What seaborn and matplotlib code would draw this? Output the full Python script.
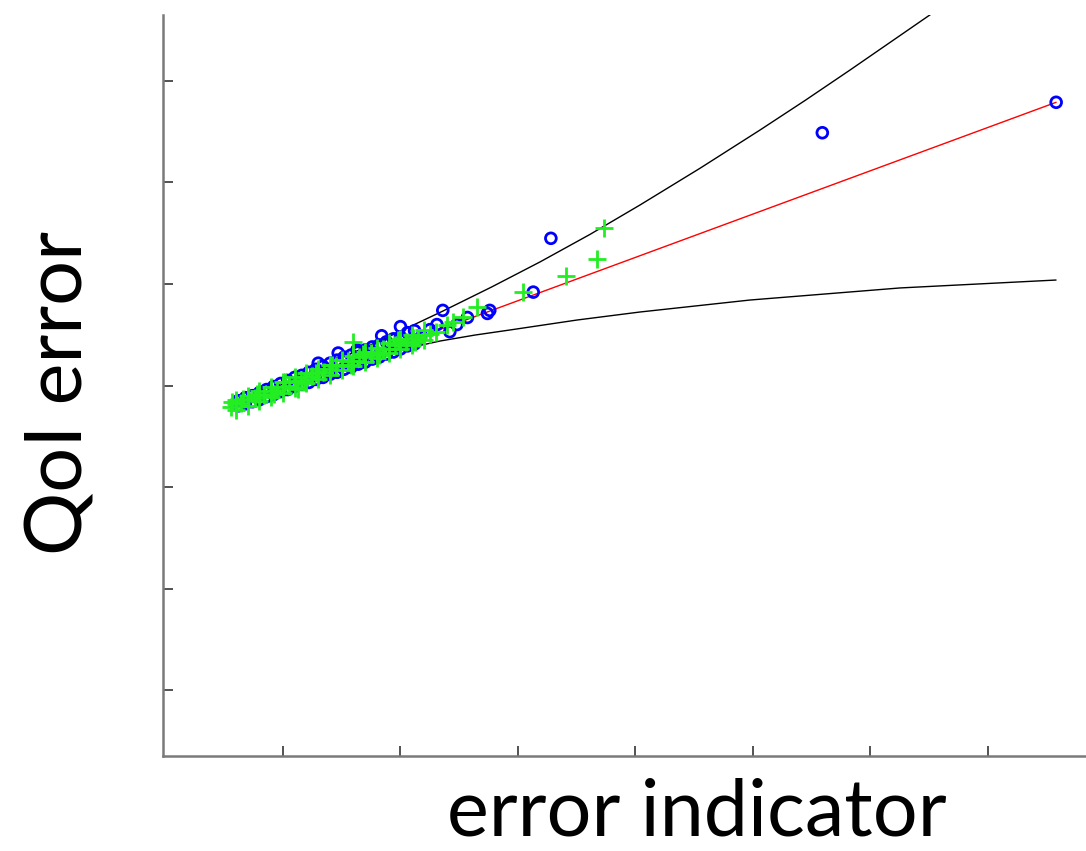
import matplotlib
matplotlib.use("Agg")
import matplotlib.pyplot as plt
import seaborn as sns
import numpy as np
import pandas as pd

# ---------------- data ----------------
blue_x = [0.62, 0.62, 0.68, 0.68, 0.74, 0.74, 0.80, 0.80, 0.86, 0.86, 0.92, 0.92,
          0.98, 0.98, 1.04, 1.04, 1.10, 1.10, 1.16, 1.16, 1.22, 1.22, 1.28, 1.28,
          1.34, 1.34, 1.40, 1.40, 1.46, 1.46, 1.52, 1.52, 1.58, 1.58, 1.64, 1.64,
          1.70, 1.70, 1.76, 1.76, 1.82, 1.82, 1.88, 1.88, 1.94, 1.94, 2.00, 2.00,
          2.06, 2.06, 2.12, 2.12,
          1.47, 1.30, 1.63, 1.84, 2.00, 2.31, 2.48, 2.57, 2.36, 2.74, 2.76,
          2.25, 2.42, 2.17,
          3.13, 3.28, 5.59, 7.58]
blue_y = [3.80, 3.85, 3.82, 3.88, 3.84, 3.90, 3.86, 3.93, 3.89, 3.96, 3.91, 3.99,
          3.94, 4.02, 3.96, 4.05, 3.99, 4.08, 4.01, 4.10, 4.03, 4.13, 4.06, 4.16,
          4.08, 4.19, 4.11, 4.22, 4.13, 4.25, 4.16, 4.28, 4.18, 4.30, 4.21, 4.33,
          4.23, 4.35, 4.26, 4.38, 4.28, 4.40, 4.31, 4.43, 4.33, 4.46, 4.36, 4.48,
          4.39, 4.52, 4.41, 4.54,
          4.32, 4.22, 4.35, 4.49, 4.58, 4.60, 4.60, 4.67, 4.74, 4.71, 4.74,
          4.55, 4.53, 4.47,
          4.92, 5.45, 6.49, 6.79]

green_x = [0.56, 0.57, 0.60, 0.64, 0.70, 0.76, 0.80, 0.84, 0.90, 0.95, 1.00, 1.05,
           1.10, 1.13, 1.15, 1.20, 1.25, 1.30, 1.35, 1.40, 1.45, 1.50, 1.55, 1.60,
           1.65, 1.70, 1.75, 1.80, 1.85, 1.90, 1.95, 2.00, 2.05, 2.10, 2.15, 2.20,
           2.25, 2.30,
           0.66, 0.78, 0.92, 1.02, 1.18, 1.28, 1.42, 1.58, 1.68, 1.82, 1.98, 2.12,
           0.60, 0.70, 0.80, 0.90, 1.00, 1.10, 1.20, 1.30, 1.40, 1.50, 1.60, 1.70,
           1.80, 1.90, 2.00, 2.10, 2.20,
           0.60, 0.70, 0.80, 0.90, 1.00, 1.10, 1.20, 1.30, 1.40, 1.50, 1.60, 1.70,
           1.80, 1.90, 2.00, 2.10, 2.20,
           1.60, 2.11, 2.53, 2.65, 2.40, 2.45,
           3.04, 3.41, 3.67, 3.73]
green_y = [3.79, 3.84, 3.82, 3.83, 3.86, 3.88, 3.91, 3.91, 3.95, 3.96, 3.99, 4.00,
           4.04, 3.97, 4.05, 4.08, 4.09, 4.13, 4.13, 4.16, 4.19, 4.20, 4.24, 4.24,
           4.28, 4.29, 4.32, 4.33, 4.36, 4.36, 4.40, 4.42, 4.43, 4.46, 4.47, 4.50,
           4.51, 4.53,
           3.87, 3.92, 3.92, 4.03, 4.03, 4.12, 4.20, 4.20, 4.31, 4.30, 4.45, 4.43,
           3.86, 3.90, 3.95, 3.99, 4.03, 4.08, 4.12, 4.16, 4.20, 4.25, 4.29, 4.33,
           4.37, 4.42, 4.46, 4.50, 4.55,
           3.76, 3.80, 3.85, 3.89, 3.93, 3.98, 4.02, 4.06, 4.10, 4.15, 4.19, 4.23,
           4.27, 4.32, 4.36, 4.40, 4.45,
           4.43, 4.47, 4.67, 4.77, 4.60, 4.63,
           4.92, 5.08, 5.25, 5.55]

fit_x = [0.55, 7.58]
fit_y = [3.79, 6.79]

upper_x = [0.549, 0.974, 1.400, 1.880, 2.362, 2.775, 3.187, 3.612, 4.038,
           4.549, 5.060, 5.443, 5.826, 6.591]
upper_y = [3.788, 4.000, 4.222, 4.470, 4.734, 4.970, 5.217, 5.488, 5.778,
           6.140, 6.517, 6.808, 7.108, 7.719]

lower_x = [0.549, 0.847, 1.145, 1.443, 1.740, 2.038, 2.336, 2.634, 2.932,
           3.502, 4.038, 4.974, 6.251, 7.579]
lower_y = [3.788, 3.922, 4.044, 4.163, 4.271, 4.362, 4.438, 4.497, 4.547,
           4.645, 4.724, 4.842, 4.961, 5.039]

x_ticks = [1, 2, 3, 4, 5, 6, 7]
y_ticks = [1, 2, 3, 4, 5, 6, 7]

# ---------------- plot ----------------
sns.set_theme(style="white")
plt.rcParams["font.family"] = ["Lato", "DejaVu Sans"]

W, H = 1086, 851
fig = plt.figure(figsize=(W / 100, H / 100), dpi=100)
ax = fig.add_axes([163 / W, (H - 756) / H, (W - 163) / W, (756 - 15) / H])

sns.lineplot(x=upper_x, y=upper_y, sort=False, estimator=None, color="black",
             linewidth=1.0, ax=ax)
sns.lineplot(x=lower_x, y=lower_y, sort=False, estimator=None, color="black",
             linewidth=1.0, ax=ax)
sns.lineplot(x=fit_x, y=fit_y, sort=False, estimator=None, color="red",
             linewidth=1.0, ax=ax)

sns.scatterplot(x=blue_x, y=blue_y, marker="o", s=60, facecolors="none",
                edgecolor="#0000ff", linewidth=2.0, ax=ax, zorder=3)
sns.scatterplot(x=green_x, y=green_y, marker="+", s=150, color="#22ee22",
                linewidth=2.0, ax=ax, zorder=4)

ax.set_xlim(-0.021, 7.834)
ax.set_ylim(0.35, 7.65)
ax.set_xticks(x_ticks)
ax.set_yticks(y_ticks)
ax.set_xticklabels([])
ax.set_yticklabels([])
ax.tick_params(axis="both", direction="in", length=7, width=1.3,
               color="#444444", left=True, bottom=True)
for side in ["top", "right"]:
    ax.spines[side].set_visible(False)
for side in ["left", "bottom"]:
    ax.spines[side].set_color("#7a7a7a")
    ax.spines[side].set_linewidth(1.8)
ax.set_xlabel("")
ax.set_ylabel("")

fig.text(697 / W, 1 / H, "error indicator", ha="center", va="bottom",
         fontsize=57, color="black")
fig.text(24 / W, 1 - 393 / H, "QoI error", rotation=90, ha="left",
         va="center", fontsize=57, color="black")

fig.savefig("out.png", dpi=100, facecolor="white")
